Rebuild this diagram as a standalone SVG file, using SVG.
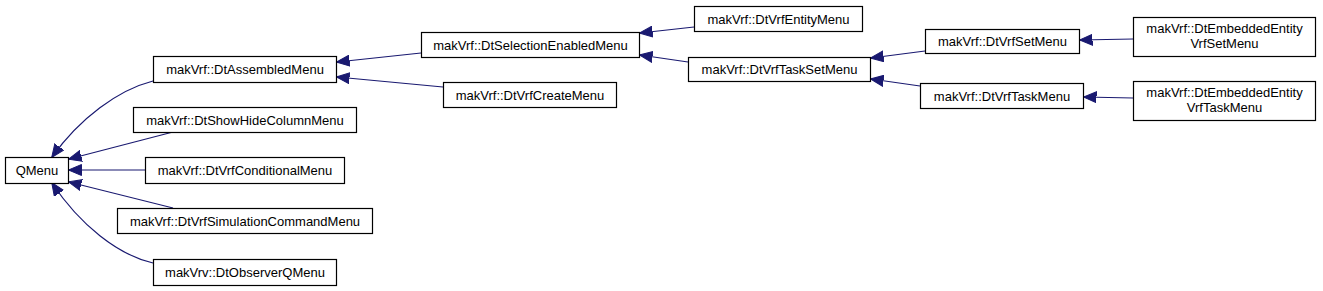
<svg xmlns="http://www.w3.org/2000/svg" width="1323" height="291" viewBox="0 0 1323 291">
<style>
  .node rect { fill: #ffffff; stroke: #000000; stroke-width: 1.2; }
  .node text { font-family: "Liberation Sans", Arial, sans-serif; font-size: 13px; fill: #000000; text-anchor: middle; }
  .edges path { fill: none; stroke: #191970; stroke-width: 1.2; marker-end: url(#arr); }
</style>
<defs>
  <marker id="arr" markerUnits="userSpaceOnUse" markerWidth="13" markerHeight="12" viewBox="0 0 13 12" refX="12.5" refY="6" orient="auto">
    <path d="M0,0.5 L13,6 L0,11.5 Z" fill="#191970" stroke="#191970" stroke-width="1"/>
  </marker>
</defs>
<rect width="1323" height="291" fill="#ffffff"/>
<g class="edges" id="edges">
  <path d="M153,81 C118,90 80,118 52,157"/>
  <path d="M173,132 L69,159"/>
  <path d="M145,170 L69,170"/>
  <path d="M173,208 L69,182"/>
  <path d="M153,263 C118,255 80,225 52,183"/>
  <path d="M421,53 L337,62"/>
  <path d="M443,87 L337,77"/>
  <path d="M694,27 L640,33"/>
  <path d="M688,62 L640,55"/>
  <path d="M925,51 L871,58"/>
  <path d="M920,86 L871,79"/>
  <path d="M1133,39 L1080,40"/>
  <path d="M1133,98 L1084,97"/>
</g>
<g class="node" id="QMenu"><rect x="5.5" y="157.5" width="63" height="26"/><text x="37" y="175">QMenu</text></g>
<g class="node" id="DtAssembledMenu"><rect x="153.5" y="56.5" width="183" height="26"/><text x="245" y="74">makVrf::DtAssembledMenu</text></g>
<g class="node" id="DtShowHideColumnMenu"><rect x="133.5" y="107.5" width="223" height="25"/><text x="245" y="124.5">makVrf::DtShowHideColumnMenu</text></g>
<g class="node" id="DtVrfConditionalMenu"><rect x="145.5" y="157.5" width="199" height="26"/><text x="245" y="175">makVrf::DtVrfConditionalMenu</text></g>
<g class="node" id="DtVrfSimulationCommandMenu"><rect x="117.5" y="208.5" width="255" height="25"/><text x="245" y="225.5">makVrf::DtVrfSimulationCommandMenu</text></g>
<g class="node" id="DtObserverQMenu"><rect x="153.5" y="259.5" width="183" height="26"/><text x="245" y="277">makVrv::DtObserverQMenu</text></g>
<g class="node" id="DtSelectionEnabledMenu"><rect x="421.5" y="32.5" width="218" height="25"/><text x="530.5" y="49.5">makVrf::DtSelectionEnabledMenu</text></g>
<g class="node" id="DtVrfCreateMenu"><rect x="443.5" y="82.5" width="173" height="25"/><text x="530" y="99.5">makVrf::DtVrfCreateMenu</text></g>
<g class="node" id="DtVrfEntityMenu"><rect x="694.5" y="6.5" width="168" height="25"/><text x="778.5" y="23.5">makVrf::DtVrfEntityMenu</text></g>
<g class="node" id="DtVrfTaskSetMenu"><rect x="688.5" y="57.5" width="182" height="24"/><text x="779.5" y="74">makVrf::DtVrfTaskSetMenu</text></g>
<g class="node" id="DtVrfSetMenu"><rect x="925.5" y="29.5" width="154" height="24"/><text x="1002.5" y="46">makVrf::DtVrfSetMenu</text></g>
<g class="node" id="DtVrfTaskMenu"><rect x="920.5" y="83.5" width="163" height="25"/><text x="1002" y="100.5">makVrf::DtVrfTaskMenu</text></g>
<g class="node" id="DtEmbeddedEntityVrfSetMenu"><rect x="1133.5" y="17.5" width="182" height="39"/><text x="1224.5" y="33">makVrf::DtEmbeddedEntity</text><text x="1224.5" y="48">VrfSetMenu</text></g>
<g class="node" id="DtEmbeddedEntityVrfTaskMenu"><rect x="1133.5" y="81.5" width="182" height="39"/><text x="1224.5" y="97">makVrf::DtEmbeddedEntity</text><text x="1224.5" y="112">VrfTaskMenu</text></g>
</svg>
